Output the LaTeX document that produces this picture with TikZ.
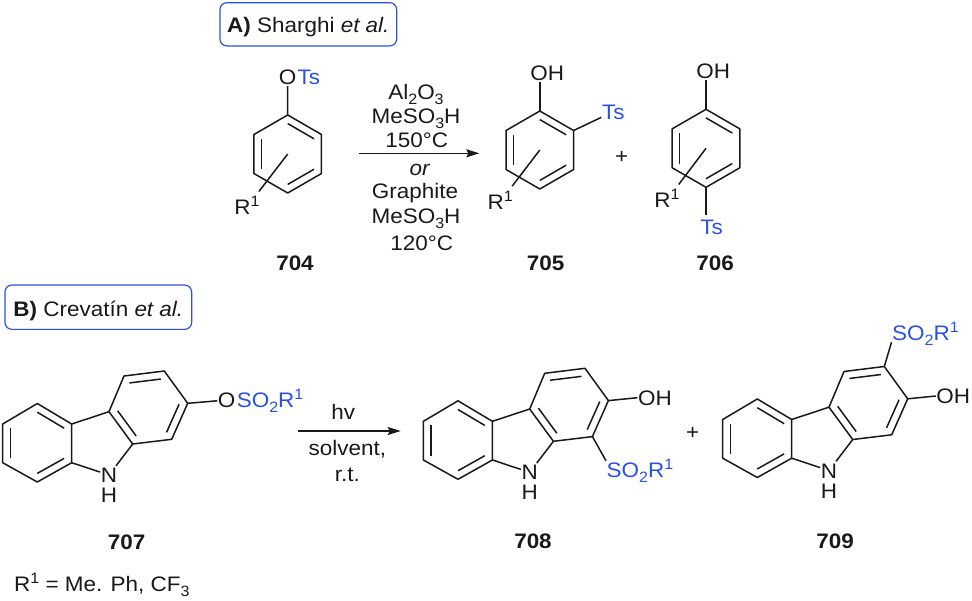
\documentclass[tikz,border=0pt]{standalone}
\usepackage{fontspec}
\setmainfont[FakeStretch=1.07]{Liberation Sans}
\usetikzlibrary{calc,positioning,arrows.meta}
\definecolor{rblue}{HTML}{2B50E8}
\newcommand{\lo}[1]{\raisebox{-.24em}{\fontsize{15}{15}\selectfont #1}}
\newcommand{\hi}[1]{\raisebox{.38em}{\fontsize{15}{15}\selectfont #1}}
\newcommand{\inbond}[3]{\draw[bond] ($(#1)!.22!(#3)$) -- ($(#2)!.22!(#3)$);}
% six atoms of a flat-sided ring, clockwise from the top
\newcommand{\ring}{
	\coordinate (c) at (0,0);
	\coordinate (a1) at (-90:39);
	\coordinate (a2) at (-30:39);
	\coordinate (a3) at (30:39);
	\coordinate (a4) at (90:39);
	\coordinate (a5) at (150:39);
	\coordinate (a6) at (210:39);
	\draw[bond] (a1) -- (a2) -- (a3) -- (a4) -- (a5) -- (a6) -- cycle;
	\inbond{a1}{a2}{c}
	\inbond{a3}{a4}{c}
	\inbond{a5}{a6}{c}
}
\newcommand{\carbazole}{
	\coordinate (c1) at (37.3,443);
	\coordinate (c2) at (148.4,407.6);
	\coordinate (b1) at (37.3,403.5);
	\coordinate (b2) at (71.7,424);
	\coordinate (b3) at (71.7,462.7);
	\coordinate (b4) at (37.3,482);
	\coordinate (b5) at (2.7,462.7);
	\coordinate (b6) at (2.7,424);
	\coordinate (d1) at (109,411.7);
	\coordinate (d2) at (124,376);
	\coordinate (d3) at (164.3,371);
	\coordinate (d4) at (187.7,403.3);
	\coordinate (d5) at (171.7,439.3);
	\coordinate (d6) at (132.7,444);
	\node[chem] (n) at (109,475) {N};
	\node[chem] (h) at (109,495) {H};
	\draw[bond] (b1) -- (b2) -- (b3) -- (b4) -- (b5) -- (b6) -- cycle;
	\draw[bond] (d1) -- (d2) -- (d3) -- (d4) -- (d5) -- (d6) -- cycle;
	\draw[bond] (b2) -- (d1);
	\draw[bond] (b3) -- (n);
	\draw[bond] (d6) -- (n);
	\inbond{b1}{b2}{c1}
	\inbond{b3}{b4}{c1}
	\inbond{b5}{b6}{c1}
	\inbond{d1}{d6}{c2}
	\inbond{d2}{d3}{c2}
	\inbond{d4}{d5}{c2}
}
\tikzset{
	bond/.style={line width=1.5pt,black!90,line join=round},
	rbond/.style={bond,shorten >=8pt},
	chem/.style={font=\fontsize{21}{23}\selectfont,inner xsep=.5pt,inner ysep=1.5pt,text height=15pt,text depth=0pt,text=black!90},
	sub/.style={chem,text=rblue},
	num/.style={chem,font=\fontsize{21}{23}\selectfont\bfseries},
	tag/.style={draw=rblue,line width=1.2pt,rounded corners=7pt}
}
\begin{document}
\begin{tikzpicture}[x=1pt,y=-1pt]
	\useasboundingbox (0,0) rectangle (972,600);
	% A
	\node[tag,chem,text height=16.4pt,minimum width=176.7pt,minimum height=43.3pt] (taga) at (308.3,24.3) {\textbf{A)} Sharghi \textit{et al.}};
	\begin{scope}[shift={(287.7,154)},name prefix=p-]
		\ring
	\end{scope}
	\node[chem] (oa) at (287.5,77) {O};
	\node[sub,right=0pt of oa] (tsa) {Ts};
	\node[chem] (ra) at (247,207) {R\hi{1}};
	\draw[bond] (p-a1) -- (oa);
	\draw[rbond] (p-c) -- (ra);
	\coordinate (aa) at (359.3,153.3);
	\coordinate (ab) at (479.3,153.3);
	\draw[bond,-{Stealth[length=13pt,width=8pt,inset=2pt]}] (aa) -- (ab);
	\node[chem] (ra1) at (416,91.7) {Al\lo{2}O\lo{3}};
	\node[chem] (ra2) at (416,115.5) {MeSO\lo{3}H};
	\node[chem] (ra3) at (416.7,140) {150°C};
	\node[chem] (ra4) at (420,168) {\textit{or}};
	\node[chem] (ra5) at (415,191) {Graphite};
	\node[chem] (ra6) at (416,216) {MeSO\lo{3}H};
	\node[chem] (ra7) at (421.7,243) {120°C};
	\begin{scope}[shift={(539.8,150)},name prefix=q-]
		\ring
	\end{scope}
	\node[chem] (oq) at (547.3,72.7) {OH};
	\node[sub] (tsq) at (613.3,111.7) {Ts};
	\node[chem] (rq) at (500.3,201.7) {R\hi{1}};
	\draw[bond] (q-a1) -- (q-a1 |- oq.south);
	\draw[bond] (q-a2) -- (tsq);
	\draw[rbond] (q-c) -- (rq);
	\node[chem] (plusa) at (621.7,155.7) {+};
	\begin{scope}[shift={(706,148.3)},name prefix=s-]
		\ring
	\end{scope}
	\node[chem] (os) at (713.3,71) {OH};
	\node[sub] (tss) at (711.7,227.3) {Ts};
	\node[chem] (rs) at (667,200) {R\hi{1}};
	\draw[bond] (s-a1) -- (s-a1 |- os.south);
	\draw[bond,shorten >=3pt] (s-a4) -- (s-a4 |- tss.north);
	\draw[rbond] (s-c) -- (rs);
	\node[num] (n704) at (295,263) {704};
	\node[num] (n705) at (545.7,263) {705};
	\node[num] (n706) at (715,263) {706};
	% B
	\node[tag,chem,text height=18.6pt,minimum width=186.7pt,minimum height=44.3pt] (tagb) at (98.3,307.2) {\textbf{B)} Crevatín \textit{et al.}};
	\begin{scope}[name prefix=u-]
		\carbazole
	\end{scope}
	\node[chem] (ou) at (226.7,400) {O};
	\node[sub,right=0pt of ou] (su) {SO\lo{2}R\hi{1}};
	\draw[bond] (u-d4) -- (ou);
	\coordinate (ba) at (298.3,431);
	\coordinate (bb) at (400.7,431);
	\draw[bond,-{Stealth[length=13pt,width=8pt,inset=2pt]}] (ba) -- (bb);
	\node[chem] (rb1) at (343.3,411.7) {hv};
	\node[chem] (rb2) at (347.3,448) {solvent,};
	\node[chem] (rb3) at (347.3,474) {r.t.};
	\begin{scope}[shift={(420.7,-2.7)},name prefix=v-]
		\carbazole
	\end{scope}
	\node[chem] (ov) at (655,397.7) {OH};
	\node[sub] (sv) at (640,470) {SO\lo{2}R\hi{1}};
	\draw[bond] (v-d4) -- (ov.west);
	\draw[bond] (v-d5) -- (sv.north west);
	\node[chem] (plusb) at (692.7,431.7) {+};
	\begin{scope}[shift={(720,-4.5)},name prefix=w-]
		\carbazole
	\end{scope}
	\node[chem] (ow) at (953.3,396) {OH};
	\node[sub] (sw) at (925.5,333) {SO\lo{2}R\hi{1}};
	\draw[bond] (w-d4) -- (ow.west);
	\draw[bond] (w-d3) -- (sw.south west);
	\node[num] (n707) at (126.7,541.7) {707};
	\node[num] (n708) at (533,540.5) {708};
	\node[num] (n709) at (835,540.7) {709};
	\node[chem,anchor=west] (rnote) at (13.5,584) {R\hi{1} = Me. Ph, CF\lo{3}};
\end{tikzpicture}
\end{document}
